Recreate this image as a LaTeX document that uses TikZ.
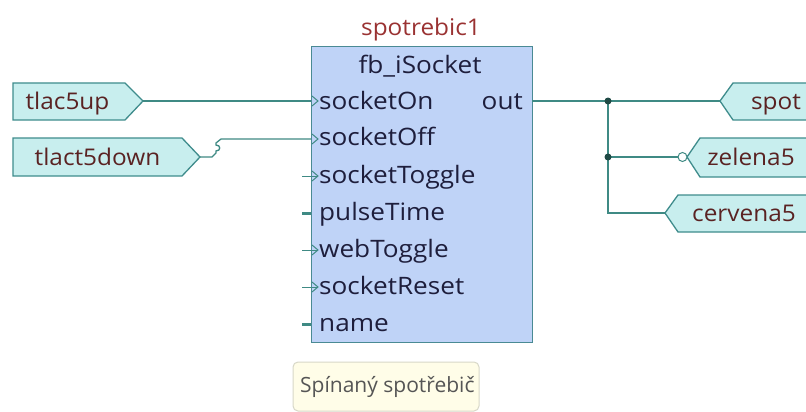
\documentclass[tikz,border=0pt]{standalone}
\usepackage{fontspec}
\setmainfont{Open Sans}
\newfontfamily\boxfont[FakeStretch=1.09]{Open Sans}
\newfontfamily\lblfont[FakeStretch=1.06]{Open Sans}
\definecolor{wirec}{HTML}{3F8A84}
\definecolor{lblfill}{HTML}{C8EEEE}
\definecolor{lblborder}{HTML}{3F8C8C}
\definecolor{lbltxt}{HTML}{5A2222}
\definecolor{titletxt}{HTML}{9A3232}
\definecolor{boxfill}{HTML}{BFD3F7}
\definecolor{boxborder}{HTML}{4A8A94}
\definecolor{boxtxt}{HTML}{1E1E3C}
\definecolor{dotc}{HTML}{1F4A45}
\definecolor{cmtfill}{HTML}{FFFDE8}
\definecolor{cmtborder}{HTML}{D8D8C8}
\definecolor{cmttxt}{HTML}{555555}
\tikzset{
  wire/.style={draw=wirec, line width=1.3pt},
  lblshape/.style={fill=lblfill, draw=lblborder, line width=1.3pt, line join=miter},
  lbltext/.style={text=lbltxt, font=\lblfont\fontsize{23}{27}\selectfont, inner sep=0pt, text height=16pt, text depth=0pt},
  pintext/.style={text=boxtxt, font=\boxfont\fontsize{24}{28}\selectfont, inner sep=0pt, text height=17pt, text depth=0pt},
  fbbox/.style={fill=boxfill, draw=boxborder, line width=1.3pt, inner sep=0pt},
  evpin/.style={draw=wirec, line width=1pt},
  datapin/.style={draw=wirec, line width=3pt},
  jdot/.style={circle, fill=dotc, inner sep=0pt, minimum size=7pt},
  negc/.style={circle, draw=wirec, fill=white, line width=1pt, inner sep=0pt, minimum size=9pt},
}
\begin{document}
\begin{tikzpicture}[x=1pt,y=-1pt]
\useasboundingbox (0,0) rectangle (806,412);
\fill[white] (0,0) rectangle (806,412);
\begin{scope}
\clip (0,0) rectangle (806,412);

% main block
\node[fbbox, minimum width=221pt, minimum height=296pt, anchor=north west] (fb) at (311,46) {};
\node[text=titletxt, font=\lblfont\fontsize{23}{27}\selectfont, inner sep=0pt, text height=16pt, text depth=0pt] (title) at (421,28) {spotrebic1};
\node[pintext] (type) at (420,65) {fb\_iSocket};

% pin coordinates
\coordinate (pOn) at (311,101);
\coordinate (pOff) at (311,139);
\coordinate (pTog) at (311,176);
\coordinate (pPul) at (311,213);
\coordinate (pWeb) at (311,250);
\coordinate (pRes) at (311,287);
\coordinate (pNam) at (311,324);
\coordinate (pOut) at (532,101);

% pin texts
\node[pintext, anchor=west] (tOn) at (319,101) {socketOn};
\node[pintext, anchor=west] (tOff) at (319,137) {socketOff};
\node[pintext, anchor=west] (tTog) at (319,175) {socketToggle};
\node[pintext, anchor=west] (tPul) at (319,212) {pulseTime};
\node[pintext, anchor=west] (tWeb) at (319,249) {webToggle};
\node[pintext, anchor=west] (tRes) at (319,286) {socketReset};
\node[pintext, anchor=west] (tNam) at (319,323) {name};
\node[pintext, anchor=east] (tOut) at (523,101) {out};

% pin markers
\foreach \p in {pOn,pOff,pTog,pWeb,pRes}{
  \draw[evpin] ([shift={(1,-5)}]\p) -- ([shift={(7,0)}]\p) -- ([shift={(1,5)}]\p);
}
\foreach \p in {pTog,pWeb,pRes}{
  \draw[evpin] ([shift={(-9,0)}]\p) -- ([shift={(7,0)}]\p);
}
\foreach \p in {pPul,pNam}{
  \draw[datapin] ([shift={(-9,0)}]\p) -- (\p);
}

% left labels
\draw[lblshape] (13,83) -- (125,83) -- (143,101) -- (125,120) -- (13,120) -- cycle;
\coordinate (up) at (143,101);
\node[lbltext] (upT) at (67.5,101) {tlac5up};
\draw[lblshape] (13,138) -- (182,138) -- (200,157) -- (182,176) -- (13,176) -- cycle;
\coordinate (down) at (200,157);
\node[lbltext] (downT) at (97.5,157) {tlact5down};

% left wires
\draw[wire] (up) -- (pOn);
\draw[wire] (down) -- (212,157) -- (216,153) -- (216,151)
  .. controls (221,151) and (221,145) .. (216,145) -- (216,143) -- (221,139) -- (pOff);

% right labels
\draw[lblshape] (812,83) -- (733,83) -- (720,101) -- (733,120) -- (812,120) -- cycle;
\coordinate (spot) at (720,101);
\node[lbltext] (spotT) at (776,101) {spot};
\draw[lblshape] (812,138) -- (700,138) -- (687,157) -- (700,177) -- (812,177) -- cycle;
\coordinate (zel) at (687,157);
\node[lbltext] (zelT) at (751,157) {zelena5};
\draw[lblshape] (812,195) -- (678,195) -- (665,213) -- (678,232) -- (812,232) -- cycle;
\coordinate (cer) at (665,213);
\node[lbltext] (cerT) at (744,213) {cervena5};

% right wires
\coordinate (j1) at (608,101);
\coordinate (j2) at (608,157);
\coordinate (j3) at (608,213);
\node[negc] (neg) at (682.5,157) {};
\draw[wire] (pOut) -- (spot);
\draw[wire] (j1) -- (j3) -- (cer);
\draw[wire] (j2) -- (neg);
\node[jdot] (d1) at (j1) {};
\node[jdot] (d2) at (j2) {};

% comment
\draw[fill=cmtfill, draw=cmtborder, line width=1pt, rounded corners=5pt] (293,362) rectangle (479,411);
\node[text=cmttxt, font=\fontsize{21}{25}\selectfont, inner sep=0pt, text height=15pt, text depth=0pt, anchor=west] (cmt) at (300,385) {Spínaný spotřebič};
\end{scope}
\end{tikzpicture}
\end{document}
